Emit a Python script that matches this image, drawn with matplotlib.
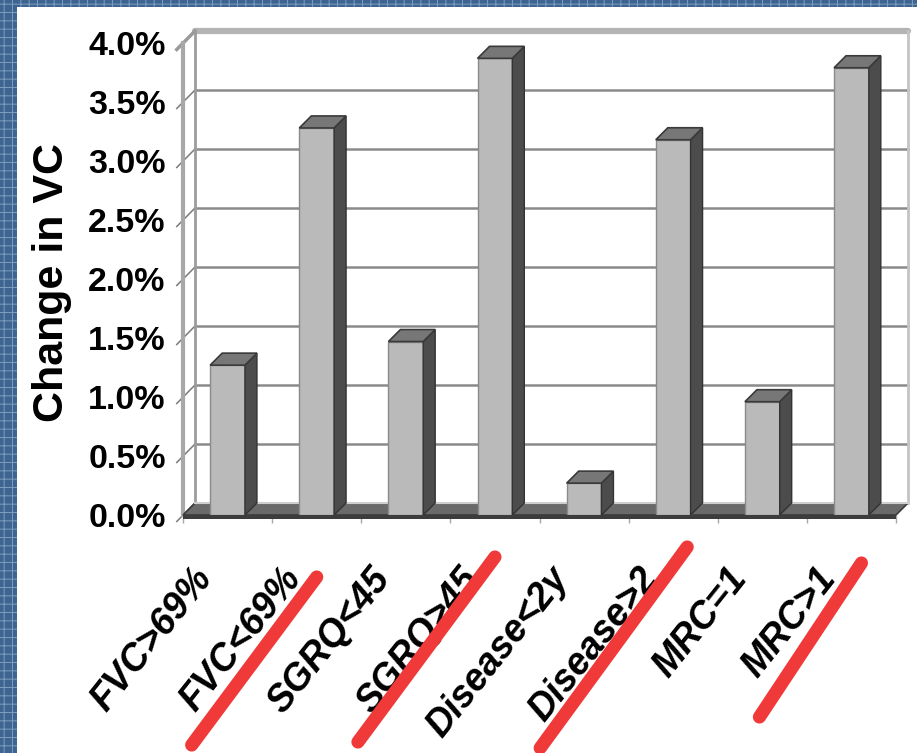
import matplotlib
matplotlib.use("Agg")
import matplotlib.pyplot as plt
from matplotlib import font_manager
from matplotlib.patches import Polygon, Rectangle
import numpy as np

# ---- data -------------------------------------------------------------
categories = ["FVC>69%", "FVC<69%", "SGRQ<45", "SGRQ>45",
              "Disease<2y", "Disease>2", "MRC=1", "MRC>1"]
change_vc = [1.27, 3.28, 1.47, 3.87, 0.27, 3.18, 0.96, 3.79]   # percent
y_ticks = [0.0, 0.5, 1.0, 1.5, 2.0, 2.5, 3.0, 3.5, 4.0]
y_tick_labels = ["0.0%", "0.5%", "1.0%", "1.5%", "2.0%",
                 "2.5%", "3.0%", "3.5%", "4.0%"]
struck_out = ["FVC<69%", "SGRQ>45", "Disease>2", "MRC>1"]

# hand-drawn strike strokes over labels: (start dx, start dy, end dx, end dy)
# in pixels, relative to the category centre on the floor line
strike_strokes = {
    "FVC<69%":   (-125, -230, 0, -62),
    "SGRQ>45":   (-137, -227, 0, -42),
    "Disease>2": (-133, -233, 14, -32),
    "MRC>1":     (-92, -202, 10, -48),
}

# ---- fonts ------------------------------------------------------------
installed = {f.name for f in font_manager.fontManager.ttflist}
base_font = "Liberation Sans" if "Liberation Sans" in installed else "DejaVu Sans"
plt.rcParams["font.family"] = [base_font, "DejaVu Sans"]
plt.rcParams["hatch.linewidth"] = 0.7

W, H = 917, 753
fig = plt.figure(figsize=(W / 100, H / 100), dpi=100, facecolor="white")

# front plane of the 3-D chart box
left_px, right_px, top_px, bottom_px = 183, 896, 43, 515
ax = fig.add_axes([left_px / W, 1 - bottom_px / H,
                   (right_px - left_px) / W, (bottom_px - top_px) / H])
n = len(categories)
ax.set_xlim(0, n)
ax.set_ylim(0, 4.0)
ax.set_facecolor("none")
for s in ax.spines.values():
    s.set_visible(False)

inv = ax.transData.inverted()
origin = ax.transData.transform((0, 0))
DEPTH_PX = 12
dxd, dyd = inv.transform(origin + np.array([DEPTH_PX, DEPTH_PX]))

# back wall grid
for t in y_ticks[1:-1]:
    ax.plot([dxd, n + dxd], [t + dyd, t + dyd], color="#8a8a8a", lw=1.8,
            zorder=1, clip_on=False)
    ax.plot([-0.07, dxd], [t - 0.055, t + dyd], color="#7a7a7a", lw=1.1,
            zorder=1, clip_on=False)
ax.plot([-0.07, dxd], [-0.055, dyd], color="#7a7a7a", lw=1.1, zorder=1, clip_on=False)
# top edge of the wall
ax.plot([dxd, n + dxd], [4 + dyd, 4 + dyd], color="#b4b4b4", lw=4.5,
        zorder=1, clip_on=False, solid_capstyle="round")
ax.plot([-0.07, dxd], [4 - 0.055, 4 + dyd], color="#9a9a9a", lw=2.5, zorder=1, clip_on=False)
# left side wall
ax.plot([0, 0], [0, 4], color="#a8a8a8", lw=3, zorder=1, clip_on=False)
ax.plot([dxd, dxd], [dyd, 4 + dyd], color="#9c9c9c", lw=2, zorder=1, clip_on=False)
# right wall edge
ax.plot([n + dxd, n + dxd], [dyd, 4 + dyd], color="#c4c4c4", lw=2, zorder=1, clip_on=False)

# floor
floor = Polygon([(0, 0), (n, 0), (n + dxd, dyd), (dxd, dyd)], closed=True,
                fc="#6a6a6a", ec="#3a3a3a", lw=1.2, zorder=2, clip_on=False)
ax.add_patch(floor)
ax.plot([dxd, n + dxd], [dyd, dyd], color="#cfcfcf", lw=1.5, zorder=2, clip_on=False)
slab_h = inv.transform(origin + np.array([0, -4]))[1]
ax.add_patch(Rectangle((0, slab_h), n, -slab_h, fc="#3c3c3c", ec="none",
                       zorder=2, clip_on=False))

# bars: front face via ax.bar, side and top faces as extruded polygons
centers = np.arange(n) + 0.5
bar_w = 0.39
ax.bar(centers, change_vc, width=bar_w, color="#bababa", edgecolor="#8a8a8a",
       lw=1, zorder=4)
for c, v in zip(centers, change_vc):
    x0, x1 = c - bar_w / 2, c + bar_w / 2
    side = Polygon([(x1, 0), (x1 + dxd, dyd), (x1 + dxd, v + dyd), (x1, v)],
                   closed=True, fc="#4c4c4c", ec="#333333", lw=1, zorder=4)
    top = Polygon([(x0, v), (x1, v), (x1 + dxd, v + dyd), (x0 + dxd, v + dyd)],
                  closed=True, fc="#777777", ec="#3a3a3a", lw=1.2, zorder=5)
    ax.add_patch(side)
    ax.add_patch(top)

# y axis labels
ax.set_yticks(y_ticks)
ax.set_yticklabels(y_tick_labels, fontweight="bold", fontsize=24.5)
ax.tick_params(axis="y", length=0, pad=12.5)

# x axis: boundary ticks below floor, labels drawn as rotated text
ax.set_xticks(np.arange(n + 1))
ax.set_xticklabels([])
ax.tick_params(axis="x", length=6, width=1, color="#a8a8a8", pad=0)

for c, lab in zip(centers, categories):
    anchor = inv.transform(ax.transData.transform((c, 0)) + np.array([-36, -46]))
    ax.text(anchor[0], anchor[1], lab, rotation=51.5, rotation_mode="anchor",
            ha="right", va="top", fontsize=27, fontweight="bold",
            fontstyle="italic", color="black", clip_on=False, zorder=6)

# red strike strokes over selected labels
for c, lab in zip(centers, categories):
    if lab not in struck_out:
        continue
    sx, sy, ex, ey = strike_strokes[lab]
    base = ax.transData.transform((c, 0))
    pts = inv.transform(np.array([base + [sx, sy], base + [ex, ey]]))
    ax.plot(pts[:, 0], pts[:, 1], color="#f03a3a", lw=9.5,
            solid_capstyle="round", zorder=10, clip_on=False)

fig.text(52 / W, 1 - 283 / H, "Change in VC", rotation=90, ha="center",
         va="center", fontsize=31, fontweight="bold", color="black")

# slide frame strips
for rect in [(0, 0, 17 / W, 1), (0, 1 - 7 / H, 1, 7 / H)]:
    fig.patches.append(Rectangle(rect[:2], rect[2], rect[3], transform=fig.transFigure,
                                 fc="#3d6590", ec="#7d9dbf", lw=0, hatch="++",
                                 zorder=20))

fig.savefig("out.png", dpi=100, facecolor="white")
